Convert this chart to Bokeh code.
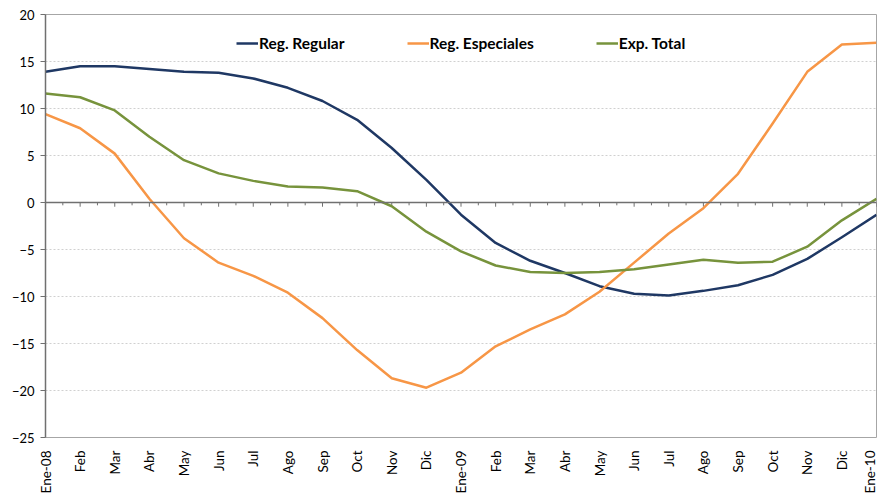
import numpy as np
from bokeh.plotting import figure
from bokeh.models import (Range1d, FixedTicker, Span, Legend, LegendItem, ColumnDataSource)
from bokeh.embed import file_html
from bokeh.resources import INLINE

# ---- data ----
months = ["Ene-08", "Feb", "Mar", "Abr", "May", "Jun", "Jul", "Ago", "Sep", "Oct", "Nov", "Dic",
          "Ene-09", "Feb", "Mar", "Abr", "May", "Jun", "Jul", "Ago", "Sep", "Oct", "Nov", "Dic",
          "Ene-10"]
reg_regular = [13.9, 14.5, 14.5, 14.2, 13.9, 13.8, 13.2, 12.2, 10.8, 8.8, 5.8, 2.4,
               -1.3, -4.3, -6.2, -7.5, -8.9, -9.7, -9.9, -9.4, -8.8, -7.7, -6.0, -3.7, -1.3]
reg_especiales = [9.4, 7.9, 5.2, 0.4, -3.8, -6.4, -7.8, -9.6, -12.3, -15.7, -18.7, -19.7,
                  -18.1, -15.3, -13.5, -11.9, -9.5, -6.4, -3.3, -0.6, 3.05, 8.4, 13.9, 16.8, 17.0]
exp_total = [11.6, 11.2, 9.8, 7.0, 4.5, 3.1, 2.3, 1.7, 1.6, 1.2, -0.4, -3.1,
             -5.2, -6.7, -7.4, -7.5, -7.4, -7.1, -6.6, -6.1, -6.4, -6.3, -4.7, -1.9, 0.4]
y_ticks = [-25, -20, -15, -10, -5, 0, 5, 10, 15, 20]
series_names = ["Reg. Regular", "Reg. Especiales", "Exp. Total"]
series_colors = ["#1F3864", "#F79646", "#77933C"]

x = list(range(len(months)))
FONT = "Lato"

p = figure(width=877, height=496, output_backend="svg", toolbar_location=None,
           x_range=Range1d(0, len(months) - 1), y_range=Range1d(-25, 20),
           min_border_left=45, min_border_right=1, min_border_top=14, min_border_bottom=58)
p.outline_line_color = "#A6A6A6"
p.outline_line_width = 1
p.background_fill_color = "white"
p.border_fill_color = "white"

# grid
p.xgrid.visible = False
p.ygrid.ticker = FixedTicker(ticks=y_ticks)
p.ygrid.grid_line_color = "#D0D0D0"
p.ygrid.grid_line_dash = "2 2"
p.ygrid.grid_line_width = 1

# y axis
ya = p.yaxis[0]
ya.ticker = FixedTicker(ticks=y_ticks)
ya.axis_line_color = "#707070"
ya.axis_line_width = 1.5
ya.major_tick_line_color = "#707070"
ya.major_tick_out = 5
ya.major_tick_in = 0
ya.minor_tick_line_color = None
ya.major_label_text_font = FONT
ya.major_label_text_font_size = "13px"
ya.major_label_text_color = "#000000"
ya.major_label_standoff = 6

# x axis (labels only, at bottom)
xa = p.xaxis[0]
xa.ticker = FixedTicker(ticks=x)
xa.major_label_overrides = {i: m for i, m in enumerate(months)}
xa.major_label_orientation = np.pi / 2
xa.axis_line_color = None
xa.major_tick_line_color = None
xa.minor_tick_line_color = None
xa.major_label_text_font = FONT
xa.major_label_text_font_size = "13.5px"
xa.major_label_text_color = "#000000"
xa.major_label_standoff = 7

# zero axis line with tick marks
p.add_layout(Span(location=0, dimension="width", line_color="#707070", line_width=1.5))
major_x = np.arange(len(months), dtype=float)
minor_x = major_x[:-1] + 0.5
p.segment(x0=major_x, y0=np.zeros_like(major_x), x1=major_x, y1=np.full_like(major_x, -0.45),
          line_color="#707070", line_width=1)
p.segment(x0=minor_x, y0=np.zeros_like(minor_x), x1=minor_x, y1=np.full_like(minor_x, -0.3),
          line_color="#707070", line_width=1)

# series
renderers = []
for vals, col in zip([reg_regular, reg_especiales, exp_total], series_colors):
    src = ColumnDataSource(dict(x=x, y=vals))
    r = p.line("x", "y", source=src, line_color=col, line_width=2.5, line_join="round")
    renderers.append(r)

legend = Legend(items=[LegendItem(label=n, renderers=[r]) for n, r in zip(series_names, renderers)],
                orientation="horizontal", location=(191, 384),
                label_text_font=FONT, label_text_font_style="bold", label_text_font_size="15.5px",
                label_text_color="#000000", glyph_width=22, label_standoff=1, spacing=62,
                background_fill_alpha=0, border_line_color=None, padding=4, margin=0)
p.add_layout(legend)

open("out.html", "w").write(file_html(p, INLINE))
